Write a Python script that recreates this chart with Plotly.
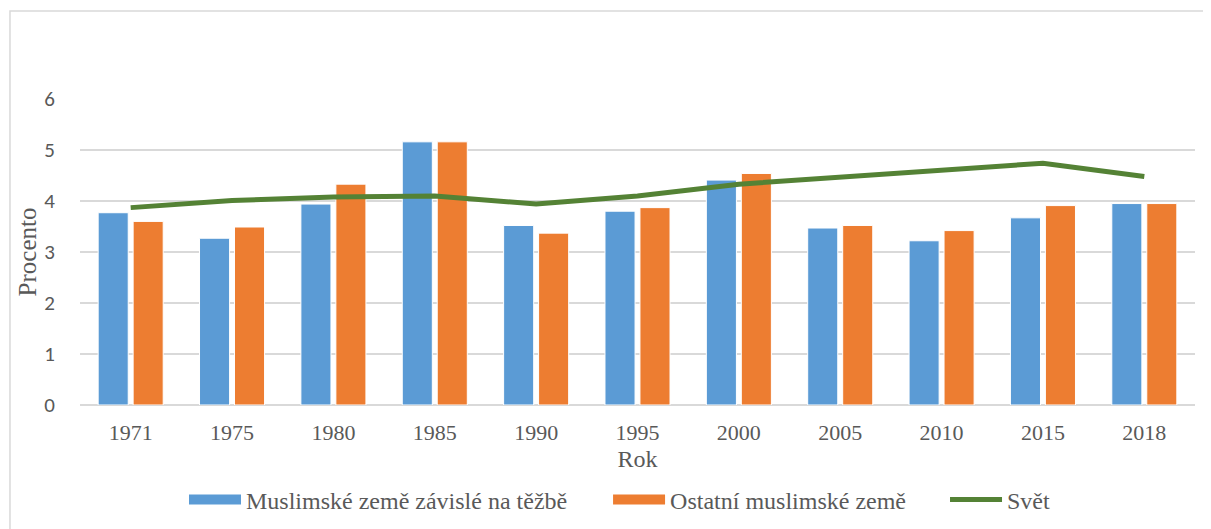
import plotly.graph_objects as go

years = ["1971", "1975", "1980", "1985", "1990", "1995", "2000", "2005", "2010", "2015", "2018"]
tezba = [3.77, 3.27, 3.94, 5.16, 3.52, 3.80, 4.41, 3.47, 3.22, 3.67, 3.95]
ostatni = [3.60, 3.49, 4.33, 5.16, 3.37, 3.87, 4.54, 3.52, 3.42, 3.91, 3.95]
svet = [3.87, 4.01, 4.08, 4.10, 3.94, 4.10, 4.33, 4.46, 4.59, 4.74, 4.48]

y_ticks = [0, 1, 2, 3, 4, 5, 6]

names = ["Muslimské země závislé na těžbě", "Ostatní muslimské země", "Svět"]
colors = ["#5B9BD5", "#ED7D31", "#548235"]

serif = "Liberation Serif, Times New Roman, serif"
sans = "Carlito, Calibri, DejaVu Sans, sans-serif"
gray = "#595959"

fig = go.Figure()
fig.add_trace(go.Bar(x=years, y=tezba, name=names[0], showlegend=False,
                     marker=dict(color=colors[0], line=dict(color="white", width=1))))
fig.add_trace(go.Bar(x=years, y=ostatni, name=names[1], showlegend=False,
                     marker=dict(color=colors[1], line=dict(color="white", width=1))))
fig.add_trace(go.Scatter(x=years, y=svet, name=names[2], mode="lines", showlegend=False,
                         line=dict(color=colors[2], width=5)))
# legend entries (wide swatches like the original), one legend box each
fig.add_trace(go.Scatter(x=[None], y=[None], mode="lines", name=names[0], legend="legend",
                         line=dict(color=colors[0], width=12)))
fig.add_trace(go.Scatter(x=[None], y=[None], mode="lines", name=names[1], legend="legend2",
                         line=dict(color=colors[1], width=12)))
fig.add_trace(go.Scatter(x=[None], y=[None], mode="lines", name=names[2], legend="legend3",
                         line=dict(color=colors[2], width=5)))

leg_common = dict(orientation="h", xref="container", yref="container",
                  y=0.0557, yanchor="middle", xanchor="left",
                  font=dict(family=serif, size=24, color=gray), itemwidth=52,
                  bgcolor="rgba(0,0,0,0)")

fig.update_layout(
    width=1203, height=521,
    margin=dict(l=72, r=16, t=91, b=124),
    paper_bgcolor="white", plot_bgcolor="white",
    barmode="group", bargap=0.31, bargroupgap=0.14,
    showlegend=True,
    legend=dict(x=0.1463, **leg_common),
    legend2=dict(x=0.4988, **leg_common),
    legend3=dict(x=0.7789, **leg_common),
    xaxis=dict(type="category", range=[-0.5, 10.5], showgrid=False, automargin=False,
               showline=False, ticks="", tickfont=dict(family=serif, size=22, color=gray),
               ticklabelstandoff=12,
               title=dict(text="Rok", font=dict(family=serif, size=24, color=gray), standoff=6)),
    yaxis=dict(range=[0, 6], tickvals=y_ticks, showgrid=True, gridcolor="#D9D9D9", gridwidth=1.5,
               automargin=False,
               zeroline=True, zerolinecolor="#D9D9D9", zerolinewidth=2,
               tickfont=dict(family=sans, size=21, color=gray), ticklabelstandoff=24,
               title=dict(text="Procento", font=dict(family=serif, size=25, color=gray), standoff=0)),
    shapes=[dict(type="rect", xref="paper", yref="paper", x0=-0.0628, x1=1.03, y0=-0.45, y1=1.2876,
                 line=dict(color="#D9D9D9", width=1.5), fillcolor="rgba(0,0,0,0)", layer="below")],
)

fig.write_html("out.html")
